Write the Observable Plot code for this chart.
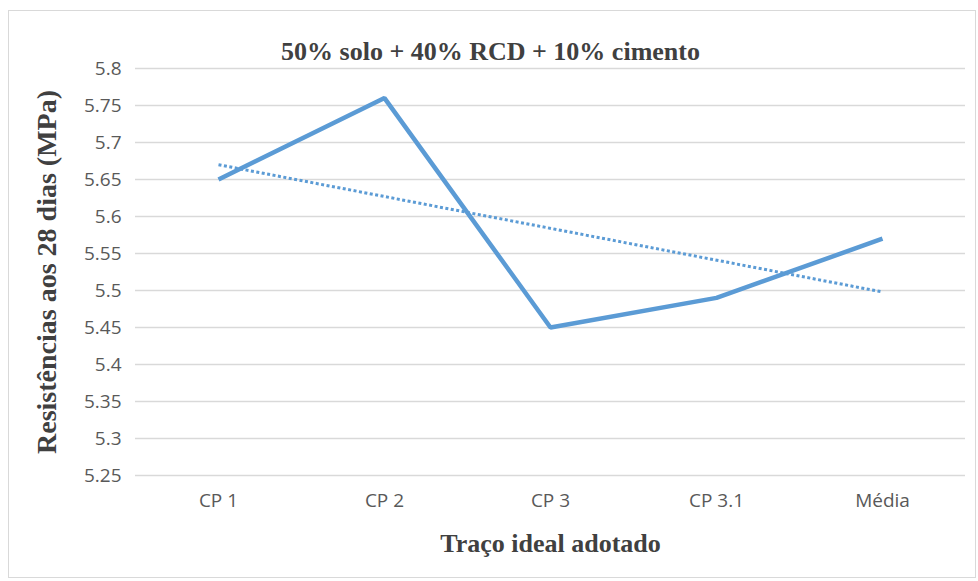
<!DOCTYPE html>
<html>
<head>
<meta charset="utf-8">
<script src="https://cdn.jsdelivr.net/npm/d3@7"></script>
<script src="https://cdn.jsdelivr.net/npm/@observablehq/plot@0.6"></script>
<style>
  html, body { margin: 0; padding: 0; background: #fff; }
  #wrap { position: relative; width: 978px; height: 581px; }
  #frame { position: absolute; left: 8px; top: 10px; width: 966px; height: 566px; border: 1px solid #d9d9d9; pointer-events: none; }
  #chart { position: absolute; left: 0; top: 0; }
</style>
</head>
<body>
<div id="wrap"><div id="frame"></div><div id="chart"></div></div>
<script>
const categories = ["CP 1", "CP 2", "CP 3", "CP 3.1", "Média"];
const values = [5.65, 5.76, 5.45, 5.49, 5.57];
const yTicks = [5.25, 5.3, 5.35, 5.4, 5.45, 5.5, 5.55, 5.6, 5.65, 5.7, 5.75, 5.8];
const title = "50% solo + 40% RCD + 10% cimento";
const xLabel = "Traço ideal adotado";
const yLabel = "Resistências aos 28 dias (MPa)";

const data = categories.map((c, i) => ({pos: i + 1, cat: c, v: values[i]}));
const serif = "'Liberation Serif', 'DejaVu Serif', serif";
const blue = "#5B9BD5";

const chart = Plot.plot({
  width: 978,
  height: 581,
  marginLeft: 135,
  marginRight: 13,
  marginTop: 68,
  marginBottom: 106,
  style: {fontFamily: "'Open Sans', sans-serif", fontSize: "19px", color: "#595959", background: "transparent"},
  x: {domain: [0.5, 5.5], ticks: categories.map((c, i) => i + 1), tickFormat: d => categories[d - 1], tickSize: 0, tickPadding: 18, label: null},
  y: {domain: [5.25, 5.8], ticks: yTicks, tickFormat: d => String(d), tickSize: 0, tickPadding: 14, label: null},
  marks: [
    Plot.gridY(yTicks, {stroke: "#d9d9d9", strokeOpacity: 1, strokeWidth: 1.5}),
    Plot.linearRegressionY(data, {x: "pos", y: "v", ci: 0, stroke: blue, strokeWidth: 3, strokeDasharray: "3 2.5", strokeLinecap: "butt"}),
    Plot.line(data, {x: "pos", y: "v", stroke: blue, strokeWidth: 4.5, strokeLinejoin: "miter", strokeLinecap: "butt"}),
    Plot.text([title], {frameAnchor: "top", dy: -27, dx: -60, text: d => d, fontFamily: serif, fontWeight: "bold", fontSize: 26, fill: "#404040"}),
    Plot.text([xLabel], {frameAnchor: "bottom", dy: 76, text: d => d, fontFamily: serif, fontWeight: "bold", fontSize: 26, fill: "#404040"}),
    Plot.text([yLabel], {frameAnchor: "left", textAnchor: "middle", dx: -88, rotate: -90, text: d => d, fontFamily: serif, fontWeight: "bold", fontSize: 28, fill: "#404040"})
  ]
});
document.getElementById("chart").appendChild(chart);
</script>
</body>
</html>
